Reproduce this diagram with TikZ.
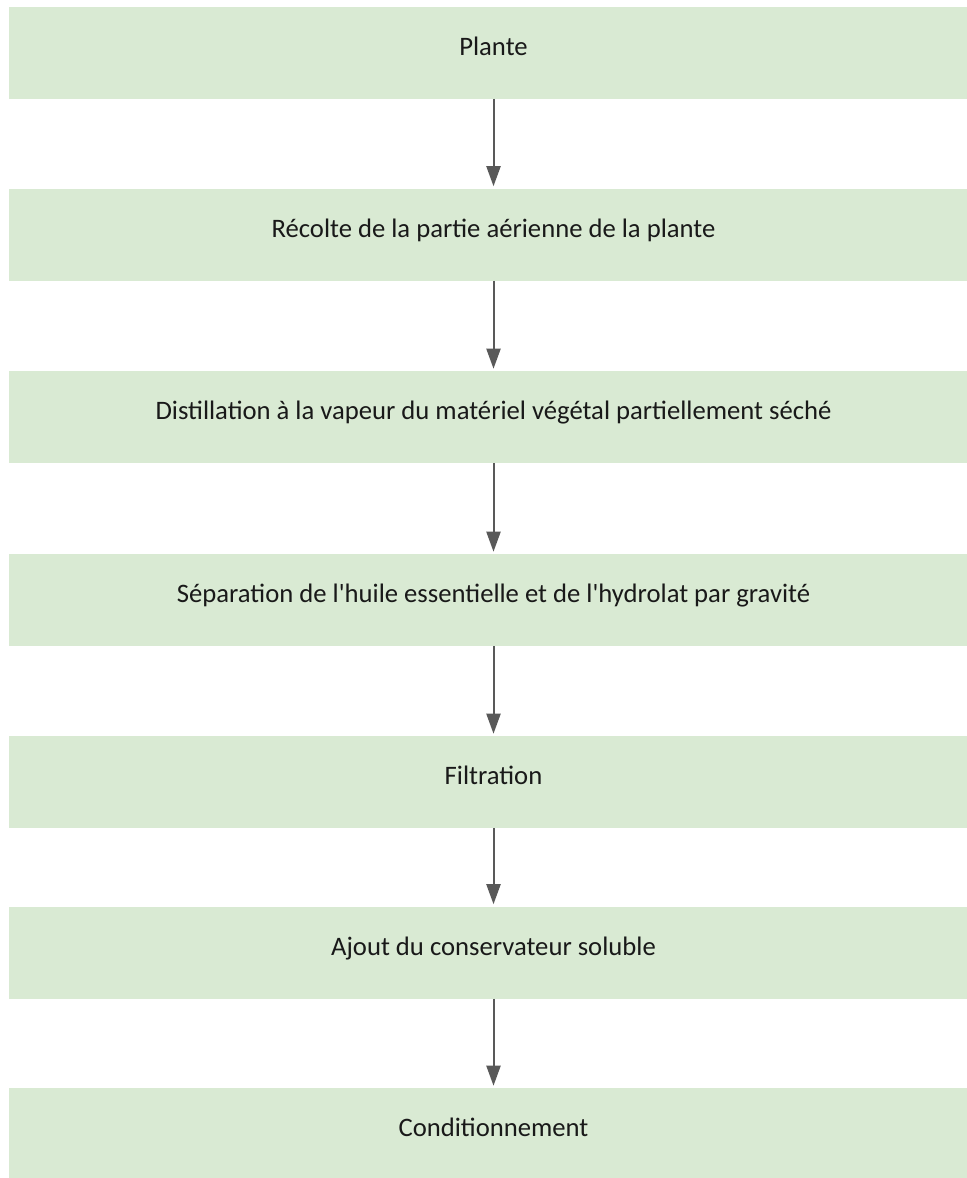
\documentclass[tikz,border=0pt]{standalone}
\usepackage{fontspec}
\setmainfont{Carlito}[Ligatures=TeXOff]
\usetikzlibrary{arrows.meta}
\definecolor{boxfill}{HTML}{D9EAD3}
\definecolor{arrowgray}{HTML}{595959}
\tikzset{
  stepbox/.style={fill=boxfill, draw=none, inner sep=0pt, minimum width=726.75pt, minimum height=69pt,
    text height=13pt, text depth=9.1pt, font=\fontsize{20pt}{24pt}\selectfont, text=black!90},
  flowarrow/.style={draw=arrowgray, line width=1.5pt, -{Triangle[length=15pt,width=10.5pt]}, shorten >=1.5pt}
}
\begin{document}
\begin{tikzpicture}[x=0.75pt,y=-0.75pt]
\useasboundingbox (0,0) rectangle (967,1178);
\node[stepbox] (b1) at (493.5,52.5) {Plante};
\node[stepbox] (b2) at (493.5,234.5) {Récolte de la partie aérienne de la plante};
\node[stepbox] (b3) at (493.5,417) {Distillation à la vapeur du matériel végétal partiellement séché};
\node[stepbox] (b4) at (493.5,600) {Séparation de l'huile essentielle et de l'hydrolat par gravité};
\node[stepbox] (b5) at (493.5,782) {Filtration};
\node[stepbox] (b6) at (493.5,952.5) {Ajout du conservateur soluble};
\node[stepbox] (b7) at (493.5,1134) {Conditionnement};
\draw[flowarrow] (b1) -- (b2);
\draw[flowarrow] (b2) -- (b3);
\draw[flowarrow] (b3) -- (b4);
\draw[flowarrow] (b4) -- (b5);
\draw[flowarrow] (b5) -- (b6);
\draw[flowarrow] (b6) -- (b7);
\end{tikzpicture}
\end{document}
